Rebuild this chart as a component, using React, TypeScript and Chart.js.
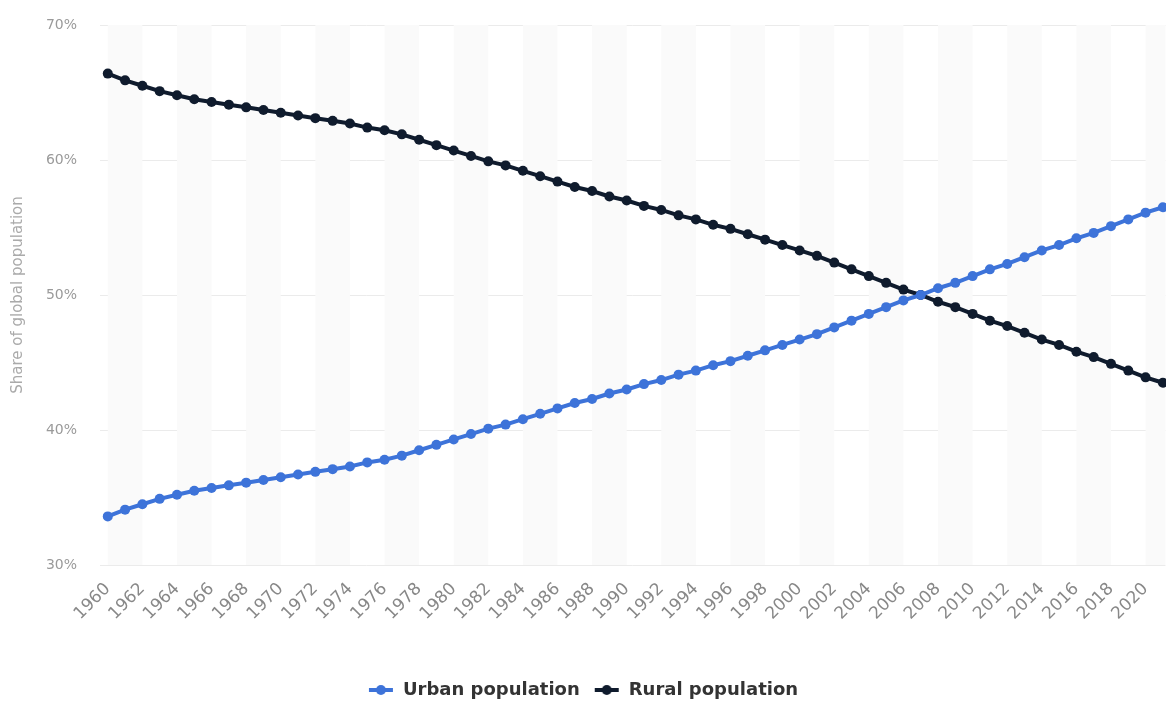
import React, { useEffect, useRef } from "react";
import { Chart, registerables } from "chart.js";

Chart.register(...registerables);

const years: number[] = [
  1960, 1961, 1962, 1963, 1964, 1965, 1966, 1967, 1968, 1969,
  1970, 1971, 1972, 1973, 1974, 1975, 1976, 1977, 1978, 1979,
  1980, 1981, 1982, 1983, 1984, 1985, 1986, 1987, 1988, 1989,
  1990, 1991, 1992, 1993, 1994, 1995, 1996, 1997, 1998, 1999,
  2000, 2001, 2002, 2003, 2004, 2005, 2006, 2007, 2008, 2009,
  2010, 2011, 2012, 2013, 2014, 2015, 2016, 2017, 2018, 2019,
  2020, 2021,
];

const urbanShare: number[] = [
  33.6, 34.1, 34.5, 34.9, 35.2, 35.5, 35.7, 35.9, 36.1, 36.3,
  36.5, 36.7, 36.9, 37.1, 37.3, 37.6, 37.8, 38.1, 38.5, 38.9,
  39.3, 39.7, 40.1, 40.4, 40.8, 41.2, 41.6, 42.0, 42.3, 42.7,
  43.0, 43.4, 43.7, 44.1, 44.4, 44.8, 45.1, 45.5, 45.9, 46.3,
  46.7, 47.1, 47.6, 48.1, 48.6, 49.1, 49.6, 50.0, 50.5, 50.9,
  51.4, 51.9, 52.3, 52.8, 53.3, 53.7, 54.2, 54.6, 55.1, 55.6,
  56.1, 56.5,
];

const ruralShare: number[] = [
  66.4, 65.9, 65.5, 65.1, 64.8, 64.5, 64.3, 64.1, 63.9, 63.7,
  63.5, 63.3, 63.1, 62.9, 62.7, 62.4, 62.2, 61.9, 61.5, 61.1,
  60.7, 60.3, 59.9, 59.6, 59.2, 58.8, 58.4, 58.0, 57.7, 57.3,
  57.0, 56.6, 56.3, 55.9, 55.6, 55.2, 54.9, 54.5, 54.1, 53.7,
  53.3, 52.9, 52.4, 51.9, 51.4, 50.9, 50.4, 50.0, 49.5, 49.1,
  48.6, 48.1, 47.7, 47.2, 46.7, 46.3, 45.8, 45.4, 44.9, 44.4,
  43.9, 43.5,
];

const seriesNames: string[] = ["Urban population", "Rural population"];
const seriesColors: string[] = ["#3d73d9", "#0f1b2d"];
const yTicks: number[] = [30, 40, 50, 60, 70];
const yTitle = "Share of global population";

function makeMarker(color: string): HTMLCanvasElement {
  const c = document.createElement("canvas");
  c.width = 26;
  c.height = 12;
  const ctx = c.getContext("2d")!;
  ctx.strokeStyle = color;
  ctx.lineWidth = 4;
  ctx.beginPath();
  ctx.moveTo(1, 6);
  ctx.lineTo(25, 6);
  ctx.stroke();
  ctx.fillStyle = color;
  ctx.beginPath();
  ctx.arc(13, 6, 5, 0, Math.PI * 2);
  ctx.fill();
  return c;
}

const stripePlugin = {
  id: "stripes",
  beforeDatasetsDraw(chart: any) {
    const { ctx, chartArea, scales } = chart;
    const x = scales.x;
    ctx.save();
    ctx.beginPath();
    ctx.rect(chartArea.left, chartArea.top, chartArea.right - chartArea.left, chartArea.bottom - chartArea.top);
    ctx.clip();
    ctx.fillStyle = "#fafafa";
    for (let y = years[0]; y <= years[years.length - 1]; y += 4) {
      const x0 = x.getPixelForValue(y);
      const x1 = x.getPixelForValue(y + 2);
      ctx.fillRect(x0, chartArea.top, x1 - x0, chartArea.bottom - chartArea.top);
    }
    ctx.restore();
  },
};

export default function App() {
  const ref = useRef<HTMLCanvasElement | null>(null);

  useEffect(() => {
    if (!ref.current) return;
    const markers = seriesColors.map((c) => makeMarker(c));
    const chart = new Chart(ref.current, {
      type: "line",
      data: {
        datasets: [
          {
            label: seriesNames[0],
            data: years.map((y, i) => ({ x: y, y: urbanShare[i] })),
            borderColor: seriesColors[0],
            backgroundColor: seriesColors[0],
            borderWidth: 4,
            pointRadius: 5,
            pointHoverRadius: 5,
            pointBorderWidth: 0,
            pointStyle: "circle",
            clip: false,
          },
          {
            label: seriesNames[1],
            data: years.map((y, i) => ({ x: y, y: ruralShare[i] })),
            borderColor: seriesColors[1],
            backgroundColor: seriesColors[1],
            borderWidth: 4,
            pointRadius: 5,
            pointHoverRadius: 5,
            pointBorderWidth: 0,
            pointStyle: "circle",
            clip: false,
          },
        ],
      },
      options: {
        animation: false,
        responsive: true,
        maintainAspectRatio: false,
        layout: { autoPadding: false, padding: { top: 25, right: 0, left: 0, bottom: -6 } },
        plugins: {
          tooltip: { enabled: false },
          legend: {
            position: "bottom",
            labels: {
              color: "#333333",
              font: { family: "'DejaVu Sans', sans-serif", size: 18, weight: "bold" },
              usePointStyle: true,
              pointStyleWidth: 26,
              padding: 14,
              generateLabels: (ch: any) =>
                ch.data.datasets.map((ds: any, i: number) => ({
                  text: ds.label,
                  fillStyle: ds.borderColor,
                  strokeStyle: ds.borderColor,
                  pointStyle: markers[i],
                  datasetIndex: i,
                  hidden: false,
                  lineWidth: 0,
                  fontColor: "#333333",
                })),
            },
          },
        },
        scales: {
          x: {
            type: "linear",
            min: 1959.55,
            max: 2021.15,
            afterBuildTicks: (scale: any) => {
              scale.ticks = years.filter((y) => y % 2 === 0).map((v) => ({ value: v }));
            },
            afterFit: (scale: any) => {
              scale.height = 102;
            },
            grid: { display: false },
            border: { display: false },
            ticks: {
              autoSkip: false,
              maxRotation: 45,
              minRotation: 45,
              color: "#888888",
              padding: 6,
              font: { family: "'DejaVu Sans', sans-serif", size: 17 },
              callback: (v: any) => String(v),
            },
          },
          y: {
            min: 30,
            max: 70,
            afterBuildTicks: (scale: any) => {
              scale.ticks = yTicks.map((v) => ({ value: v }));
            },
            afterFit: (scale: any) => {
              scale.width = 100;
            },
            grid: {
              color: "#ebebeb",
              lineWidth: 1,
              drawTicks: true,
              tickLength: 20,
              tickColor: "rgba(0,0,0,0)",
            },
            border: { display: false },
            title: {
              display: true,
              text: yTitle,
              color: "#aaaaaa",
              font: { family: "'DejaVu Sans', sans-serif", size: 15 },
              padding: { top: 9, bottom: 0 },
            },
            ticks: {
              color: "#9a9a9a",
              padding: 3,
              font: { family: "'DejaVu Sans', sans-serif", size: 14 },
              callback: (v: any) => v + "%",
            },
          },
        },
      },
      plugins: [stripePlugin],
    });
    return () => chart.destroy();
  }, []);

  return (
    <div style={{ position: "fixed", left: 0, top: 0, width: 1166, height: 703, background: "#ffffff" }}>
      <canvas ref={ref} />
    </div>
  );
}
